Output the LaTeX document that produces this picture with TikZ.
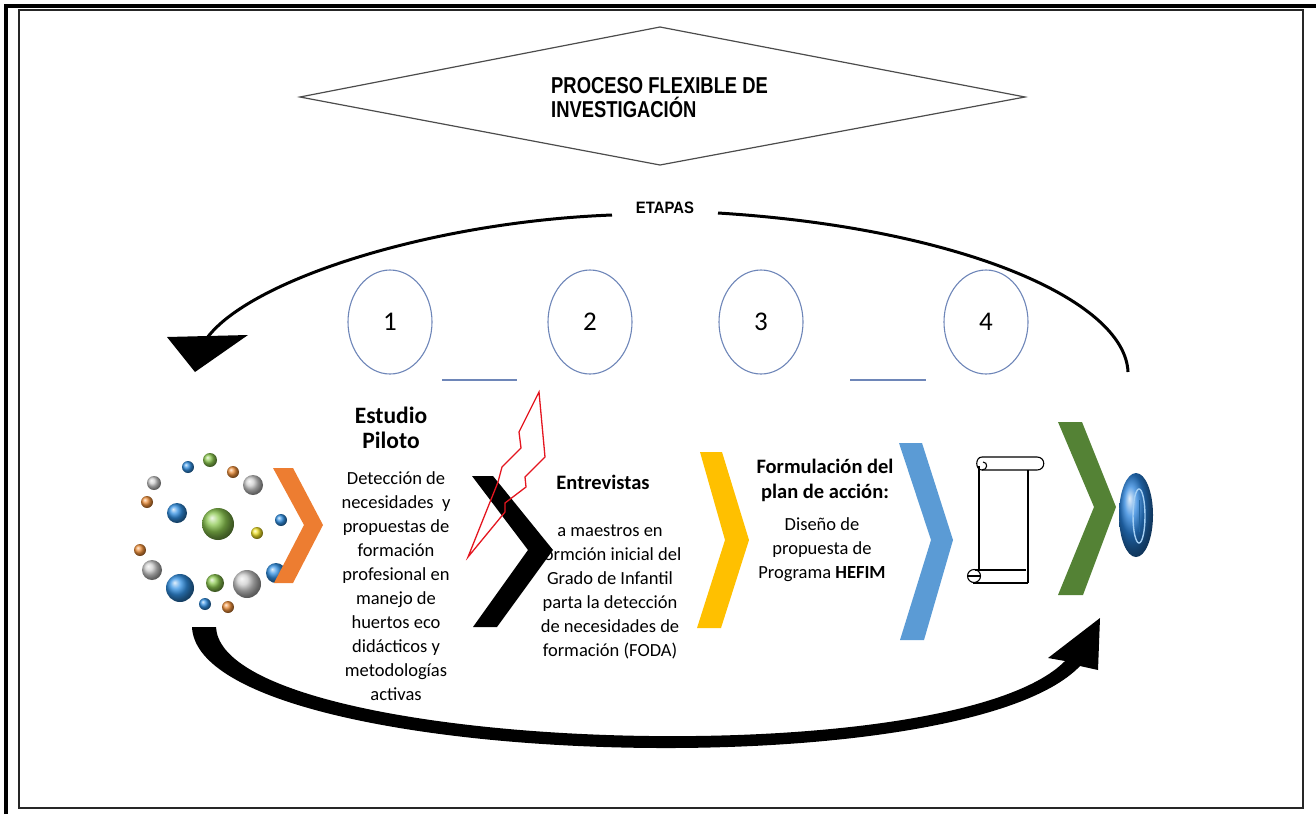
\documentclass[tikz,border=0pt]{standalone}
\usepackage{fontspec}
\setmainfont{Carlito}
\newfontfamily\titlefont[FakeStretch=0.8]{Liberation Sans}
\newfontfamily\labelfont[FakeStretch=0.9]{Liberation Sans}

\definecolor{chorange}{RGB}{237,125,49}
\definecolor{chyellow}{RGB}{255,192,0}
\definecolor{chblue}{RGB}{91,155,213}
\definecolor{chgreen}{RGB}{84,130,53}
\definecolor{stageline}{RGB}{110,134,184}
\definecolor{boltred}{RGB}{228,22,32}
\definecolor{bblue}{RGB}{50,145,228}
\definecolor{bgreen}{RGB}{140,200,80}
\definecolor{borange}{RGB}{240,145,60}
\definecolor{bgray}{RGB}{205,205,205}
\definecolor{byellow}{RGB}{240,225,40}

\tikzset{
  stage/.style={draw=stageline, line width=1.1pt, ellipse, minimum width=84pt,
    minimum height=104pt, inner sep=0pt, font=\fontsize{27}{30}\selectfont},
  heading/.style={font=\bfseries\fontsize{20.5}{25}\selectfont, align=center, inner sep=0pt},
  bodytext/.style={font=\fontsize{18.5}{24}\selectfont, align=center, inner sep=0pt},
  sep/.style={draw=stageline, line width=1.6pt},
  loopline/.style={line width=3pt},
  bolt/.style={draw=boltred, line width=1.3pt, line join=miter},
}
\usetikzlibrary{shapes.geometric}

\begin{document}
\begin{tikzpicture}[x=1pt,y=-1pt]
\useasboundingbox (0,0) rectangle (1316,814);

% page frames
\draw[line width=3.5pt] (6,814) -- (6,6) -- (1316,6);
\draw[line width=1.3pt, black!85] (19,10) rectangle (1303,808);

% title diamond
\coordinate (dL) at (300,97);
\coordinate (dT) at (660,27);
\coordinate (dR) at (1025,97);
\coordinate (dB) at (660,165);
\draw[line width=1.2pt, black!70] (dL) -- (dT) -- (dR) -- (dB) -- cycle;
\node[anchor=west, align=left, inner sep=0pt,
      font=\titlefont\bfseries\fontsize{23}{24}\selectfont] (title) at (551,98)
  {PROCESO FLEXIBLE DE\\INVESTIGACIÓN};

% label of the upper loop
\node[font=\labelfont\bfseries\fontsize{16.5}{18}\selectfont, inner sep=0pt] (etapas) at (665,208) {ETAPAS};
\coordinate (arcLstart) at (612,215);
\coordinate (arcLend) at (207,338);
\coordinate (arcRstart) at (718,213);
\coordinate (arcRend) at (1128,372);
\draw[loopline] (arcLstart) .. controls (430,222) and (250,280) .. (arcLend);
\fill (167,337) -- (248,335) -- (195,372) -- cycle;
\draw[loopline] (arcRstart) .. controls (960,228) and (1125,300) .. (arcRend);

% stage numbers
\node[stage] (s1) at (390,322) {1};
\node[stage] (s2) at (590,322) {2};
\node[stage] (s3) at (761,322) {3};
\node[stage] (s4) at (986,322) {4};
\coordinate (sepA1) at (442,380);
\coordinate (sepA2) at (517,380);
\coordinate (sepB1) at (850,380);
\coordinate (sepB2) at (926,380);
\draw[sep] (sepA1) -- (sepA2);
\draw[sep] (sepB1) -- (sepB2);

% cluster of spheres
\foreach \x/\y/\r/\c in {
  210/460/7/bgreen, 188/467/6/bblue, 233/472/6/borange, 154/483/7/bgray,
  253/485/10/bgray, 147/502/6/borange, 177/513/10/bblue, 218/524/16/bgreen,
  281/520/6/bblue, 257/533/6/byellow, 140/550/6/borange, 152/570/10/bgray,
  180/588/14/bblue, 215/583/9/bgreen, 247/584/14/bgray, 276/573/10/bblue,
  205/604/6/bblue, 228/607/6/borange}
  \shade[ball color=\c] (\x,\y) circle (\r);

% chevrons
\fill[chorange] (273,468) -- (293,468) -- (323,525) -- (293,583) -- (274,583) -- (304,525) -- cycle;
\fill[black] (472,476) -- (493,476) -- (553,550) -- (497,627) -- (473,627) -- (528,550) -- cycle;
\fill[chyellow] (700,452) -- (722,452) -- (749,540) -- (721,628) -- (697,628) -- (725,540) -- cycle;
\fill[chblue] (899,443) -- (922,443) -- (953,540) -- (924,640) -- (900,640) -- (931,540) -- cycle;
\fill[chgreen] (1058,422) -- (1082,422) -- (1116,507) -- (1083,595) -- (1058,595) -- (1094,507) -- cycle;

% lightning bolt
\draw[bolt] (539,392) -- (545,457) -- (525,477) -- (526,487) -- (505,503) -- (505,512)
  -- (468,557) -- (498,482) -- (502,467) -- (521,448) -- (519,432) -- cycle;

% scroll
\begin{scope}[line width=1.1pt]
\draw (982,457) -- (1037,457) .. controls (1046,457) and (1046,470) .. (1037,470) -- (982,470);
\draw (982,457) .. controls (975,457) and (975,470) .. (982,470);
\draw (982,470) .. controls (988,470) and (988,462) .. (983,462);
\draw (979,466) -- (979,570);
\draw (1028,470) -- (1028,583);
\draw (975,570) -- (1026,570);
\draw (973,583) -- (1028,583);
\draw (974,576) circle (6.5);
\draw (968,576) -- (980,576);
\end{scope}

% end oval
\shade[ball color={rgb,255:red,40;green,130;blue,220}] (1136,515) ellipse (17 and 42);
\draw[white!55!bblue, line width=1.4pt] (1139,516) ellipse (6 and 27);
\draw[black!30!bblue, line width=1pt] (1139,500) -- (1139,532);

% lower return arrow
\fill (192,627) .. controls (198,768) and (960,792) .. (1080,666) -- (1098,670)
  -- (1100,618) -- (1048,658) -- (1065,661)
  .. controls (950,778) and (222,752) .. (216,627) -- cycle;

% texts
\node[font=\bfseries\fontsize{23.5}{25}\selectfont, align=center, inner sep=0pt] (h1) at (391,428) {Estudio\\Piloto};
\node[bodytext] (b1) at (396,586) {Detección de\\necesidades\ \ y\\propuestas de\\formación\\profesional en\\manejo de\\huertos eco\\didácticos y\\metodologías\\activas};
\node[heading] (h2) at (603,482) {Entrevistas};
\node[bodytext] (b2) at (610,592) {a maestros en\\formción inicial del\\Grado de Infantil\\parta la detección\\de necesidades de\\formación (FODA)};
\node[heading] (h3) at (825,480) {Formulación del\\plan de acción:};
\node[bodytext] (b3) at (822,550) {Diseño de\\propuesta de\\Programa \textbf{HEFIM}};
\end{tikzpicture}
\end{document}
